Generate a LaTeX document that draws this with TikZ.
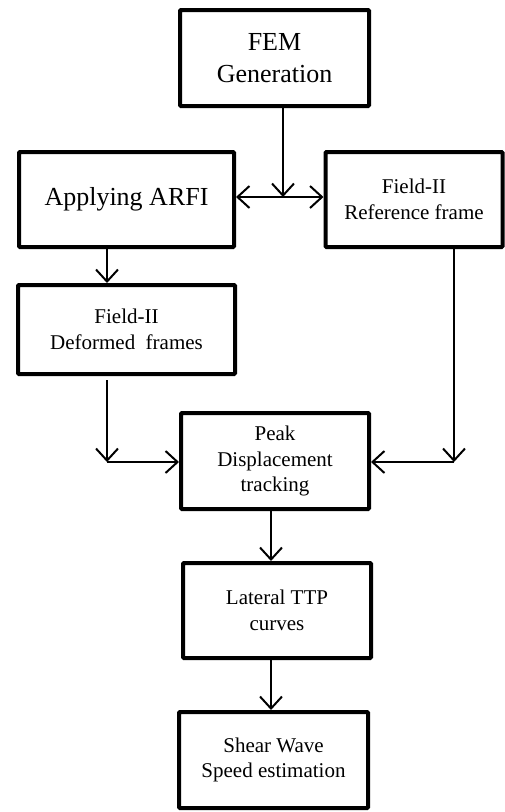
\documentclass[tikz,border=0pt]{standalone}
\usepackage{fontspec}
\setmainfont{Liberation Serif}
\usetikzlibrary{arrows.meta}

\begin{document}
\begin{tikzpicture}[x=1pt,y=-1pt,
  stepbox/.style={draw=black, line width=4pt, rounded corners=1pt, fill=white,
    align=center, inner sep=0pt, anchor=center},
  bigtext/.style={font=\fontsize{26}{32}\selectfont},
  smalltext/.style={font=\fontsize{21}{25.5}\selectfont},
  flow/.style={line width=2pt, -{Straight Barb[length=12pt,width=22pt,line width=2pt]}},
  flowboth/.style={line width=2pt, {Straight Barb[length=12pt,width=22pt,line width=2pt]}-{Straight Barb[length=12pt,width=22pt,line width=2pt]}}
]
\useasboundingbox (0,0) rectangle (505,812);

% process boxes
\node[stepbox, bigtext, minimum width=189pt, minimum height=96pt] (fem) at (274.5,58) {FEM\\Generation};
\node[stepbox, bigtext, minimum width=215pt, minimum height=95pt] (arfi) at (126.5,199.5) {Applying ARFI};
\node[stepbox, smalltext, minimum width=177pt, minimum height=95pt] (ref) at (414,199.5) {Field-II\\Reference frame};
\node[stepbox, smalltext, minimum width=217pt, minimum height=89pt] (def) at (126.5,329.5) {Field-II\\Deformed\ \ frames};
\node[stepbox, smalltext, minimum width=188pt, minimum height=96pt] (peak) at (275,461) {Peak\\Displacement\\tracking};
\node[stepbox, smalltext, minimum width=188pt, minimum height=95pt] (lat) at (277,610.5) {Lateral TTP\\curves};
\node[stepbox, smalltext, minimum width=189pt, minimum height=96pt] (swe) at (273.5,760) {Shear Wave\\Speed estimation};

% junction points of the connectors
\coordinate (jtop) at (283,197);
\coordinate (jleft) at (107,462);
\coordinate (jright) at (454,462);
\coordinate (xmid) at (271,0);

% connectors
\draw[flow] (fem.south -| jtop) -- (jtop);
\draw[flowboth] (arfi.east |- jtop) -- (ref.west |- jtop);
\draw[flow] (arfi.south -| jleft) -- (def.north -| jleft);
\draw[flow, shorten <=4pt] (def.south -| jleft) -- (jleft);
\draw[flow] (jleft) -- (peak.west |- jleft);
\draw[flow] (ref.south -| jright) -- (jright);
\draw[flow] (jright) -- (peak.east |- jright);
\draw[flow] (peak.south -| xmid) -- (lat.north -| xmid);
\draw[flow] (lat.south -| xmid) -- (swe.north -| xmid);
\end{tikzpicture}
\end{document}
